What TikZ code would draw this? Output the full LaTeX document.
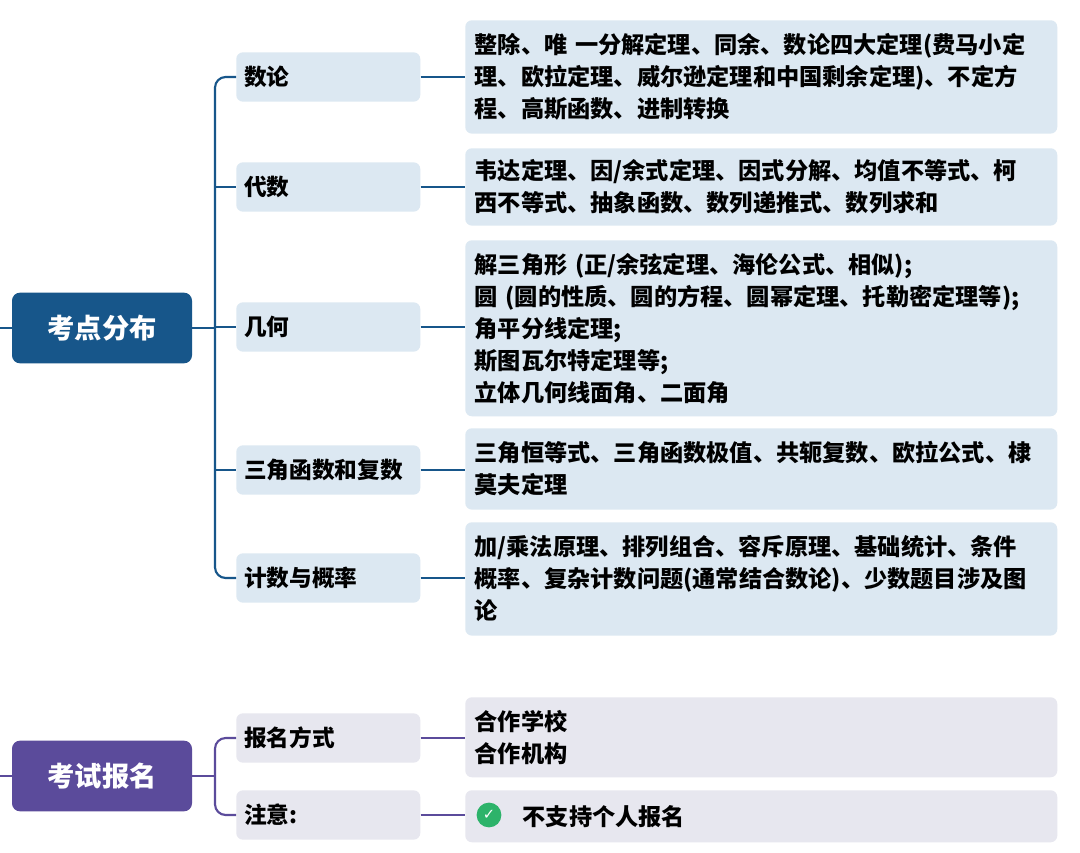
\documentclass[tikz,border=0pt]{standalone}
\usepackage{fontspec}
\setmainfont{Noto Sans CJK SC}
\newfontfamily\symfont{DejaVu Sans}
\usetikzlibrary{positioning}
\definecolor{rootblue}{HTML}{17568A}
\definecolor{rootpurple}{HTML}{5B4B9B}
\definecolor{catblue}{HTML}{DCE8F2}
\definecolor{catgrey}{HTML}{E7E7EF}
\definecolor{checkgreen}{HTML}{2DB36A}
\tikzset{
    root/.style={rectangle, rounded corners=6pt, minimum width=135pt, minimum height=53pt,
        text=white, font=\fontsize{20.5}{24}\selectfont\bfseries},
    cat/.style={rectangle, rounded corners=5pt, minimum width=138pt, minimum height=37pt,
        anchor=west, text width=126pt, align=left, font=\fontsize{17}{20}\selectfont\bfseries},
    detail/.style={rectangle, rounded corners=5pt, anchor=north west, text width=430pt,
        inner xsep=7pt, align=left, font=\fontsize{17.4}{24}\selectfont\bfseries},
    link/.style={line width=1.6pt, rounded corners=8pt},
}
\begin{document}
\begin{tikzpicture}[x=0.75pt, y=-0.75pt]
    \useasboundingbox[fill=white] (0,0) rectangle (1080,852);

    % first root
    \node[root, fill=rootblue] (R1) at (102,328) {考点分布};
    \node[cat, fill=catblue] (C1) at (236,77)  {数论};
    \node[cat, fill=catblue] (C2) at (236,187) {代数};
    \node[cat, fill=catblue] (C3) at (236,327) {几何};
    \node[cat, fill=catblue] (C4) at (236,470) {三角函数和复数};
    \node[cat, fill=catblue] (C5) at (236,578) {计数与概率};

    \node[detail, fill=catblue, minimum height=85pt] (D1) at (465,20)
        {整除、唯 一分解定理、同余、数论四大定理(费马小定\\理、欧拉定理、威尔逊定理和中国剩余定理)、不定方\\程、高斯函数、进制转换};
    \node[detail, fill=catblue, minimum height=58pt] (D2) at (465,148)
        {韦达定理、因/余式定理、因式分解、均值不等式、柯\\西不等式、抽象函数、数列递推式、数列求和};
    \node[detail, fill=catblue, minimum height=132pt] (D3) at (465,240)
        {解三角形 (正/余弦定理、海伦公式、相似);\\圆 (圆的性质、圆的方程、圆幂定理、托勒密定理等);\\角平分线定理;\\斯图瓦尔特定理等;\\立体几何线面角、二面角};
    \node[detail, fill=catblue, minimum height=61pt] (D4) at (465,428)
        {三角恒等式、三角函数极值、共轭复数、欧拉公式、棣\\莫夫定理};
    \node[detail, fill=catblue, minimum height=85pt] (D5) at (465,522)
        {加/乘法原理、排列组合、容斥原理、基础统计、条件\\概率、复杂计数问题(通常结合数论)、少数题目涉及图\\论};

    \draw[link, rootblue] (0,328) -- (R1.west);
    \draw[link, rootblue] (R1.east) -- (215,328);
    \draw[link, rootblue] (C1.west) -| (215,328) |- (C5.west);
    \foreach \c in {C2,C3,C4}
        \draw[link, rootblue] (215,0 |- \c.west) -- (\c.west);
    \draw[link, rootblue] (C1.east) -- (C1.east -| D1.west);
    \draw[link, rootblue] (C2.east) -- (C2.east -| D2.west);
    \draw[link, rootblue] (C3.east) -- (C3.east -| D3.west);
    \draw[link, rootblue] (C4.east) -- (C4.east -| D4.west);
    \draw[link, rootblue] (C5.east) -- (C5.east -| D5.west);

    % second root
    \node[root, fill=rootpurple] (R2) at (102,776) {考试报名};
    \node[cat, fill=catgrey] (E1) at (236,738) {报名方式};
    \node[cat, fill=catgrey] (E2) at (236,815) {注意:};
    \node[detail, fill=catgrey, minimum height=60pt] (F1) at (465,697) {合作学校\\合作机构};
    \node[detail, fill=catgrey, minimum height=39pt] (F2) at (465,790)
        {\hspace*{36pt}不支持个人报名};
    \node[circle, fill=checkgreen, text=white, inner sep=2.5pt, font=\symfont\bfseries\fontsize{11}{11}\selectfont]
        (OK) at (489,815) {✓};

    \draw[link, rootpurple] (0,776) -- (R2.west);
    \draw[link, rootpurple] (R2.east) -- (215,776);
    \draw[link, rootpurple] (E1.west) -| (215,776) |- (E2.west);
    \draw[link, rootpurple] (E1.east) -- (E1.east -| F1.west);
    \draw[link, rootpurple] (E2.east) -- (E2.east -| F2.west);
\end{tikzpicture}
\end{document}
